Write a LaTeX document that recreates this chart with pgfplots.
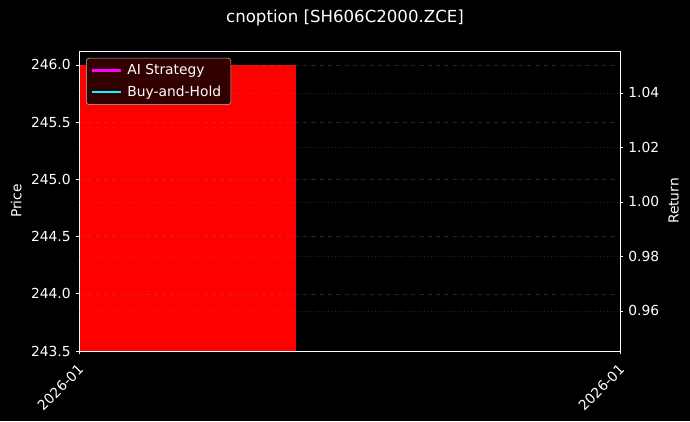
\documentclass[border=0pt]{standalone}
\usepackage{pgfplots}
\pgfplotsset{compat=1.18}
\usepackage{fontspec}
\setmainfont{DejaVu Sans}
\definecolor{legbg}{RGB}{51,0,0}
\definecolor{aimag}{RGB}{255,0,255}
\definecolor{bhcyan}{RGB}{0,255,255}
\begin{document}
\begin{tikzpicture}[x=1bp,y=1bp]
\fill[black] (0,0) rectangle (496.8,303.12);
\pgfplotsset{
  every axis/.append style={
    scale only axis, width=389.5bp, height=216bp,
    at={(56.88bp,50.4bp)}, anchor=south west,
    xmin=0, xmax=1,
    axis line style={white, line width=0.6pt},
    tick style={white, line width=0.6pt},
    tick align=outside,
    major tick length=2.5pt,
    ticklabel style={text=white, font=\fontsize{10}{12}\selectfont},
    label style={text=white, font=\fontsize{10}{12}\selectfont},
    /pgf/number format/assume math mode=true,
    major grid style={gray, opacity=0.3, dashed, line width=0.4pt},
  }
}
\begin{axis}[
  ymin=243.5, ymax=246.122,
  ytick={243.5,244,244.5,245,245.5,246},
  yticklabel style={/pgf/number format/.cd, fixed, fixed zerofill, precision=1},
  ytick pos=left, xtick pos=bottom,
  xtick={0,1}, xticklabels={2026-01,2026-01},
  xticklabel style={rotate=45, anchor=north east, xshift=-2pt},
  ylabel={Price},
  ymajorgrids,
  axis on top,
]
\addplot[fill=red, draw=none] coordinates {(0,243.5) (0,246.0) (0.401,246.0) (0.401,243.5)} -- cycle;
\end{axis}
\begin{axis}[
  ymin=0.9453, ymax=1.0554,
  axis y line*=right, axis x line=none,
  ytick={0.96,0.98,1.00,1.02,1.04},
  yticklabel style={/pgf/number format/.cd, fixed, fixed zerofill, precision=2},
  ylabel={Return},
  ymajorgrids,
  major grid style={gray, opacity=0.3, dotted, line width=0.4pt},
  legend style={at={(0.013,0.977)}, anchor=north west, fill=legbg, draw=white!75!black,
    rounded corners=2pt, text=white, font=\fontsize{10}{12}\selectfont,
    inner xsep=3pt, inner ysep=2.5pt, row sep=2.5pt,
    nodes={inner xsep=4pt}},
  legend cell align=left,
  legend image code/.code={\draw[#1, line width=1.6pt] (0bp,0bp) -- (21bp,0bp);},
]
\addlegendimage{color=aimag}
\addlegendentry{AI Strategy}
\addlegendimage{color=bhcyan}
\addlegendentry{Buy-and-Hold}
\end{axis}
\node[text=white, font=\fontsize{12}{14}\selectfont] at (248.4,290.2) {cnoption [SH606C2000.ZCE]};
\end{tikzpicture}
\end{document}
